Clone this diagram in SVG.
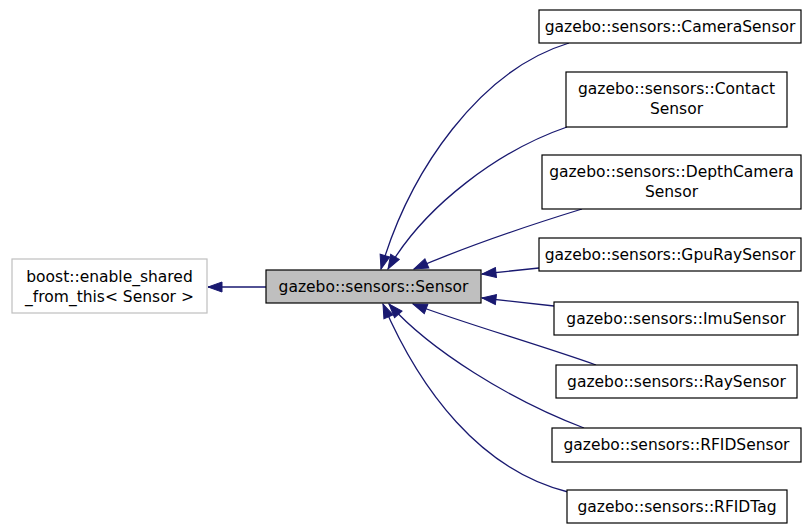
<svg xmlns="http://www.w3.org/2000/svg" width="803" height="525" viewBox="0 0 803 525">
<defs>
<style>
.n rect{fill:#fff;stroke:#000;stroke-width:1.2}
text{font-family:"DejaVu Sans",sans-serif;font-size:15.5px;fill:#000;text-anchor:middle}
.e path{fill:none;stroke:#191970;stroke-width:1.3}
</style>
<marker id="ah" markerWidth="16" markerHeight="12" refX="15" refY="6" orient="auto" markerUnits="userSpaceOnUse">
<path d="M1,1 L15,6 L1,11 z" fill="#191970" stroke="#191970"/>
</marker>
</defs>
<rect width="803" height="525" fill="#fff"/>
<g class="e" id="edges">
<path d="M266,287 L208,287" marker-end="url(#ah)"/>
<path d="M569,43 C480,70 410,170 381,269" marker-end="url(#ah)"/>
<path d="M567,127 C500,150 425,205 388,269" marker-end="url(#ah)"/>
<path d="M582,209 C530,225 470,245 414,269" marker-end="url(#ah)"/>
<path d="M539,268 L482,274" marker-end="url(#ah)"/>
<path d="M554,306 L482,298" marker-end="url(#ah)"/>
<path d="M596,365 C540,345 460,322 413,304" marker-end="url(#ah)"/>
<path d="M584,428 C510,400 430,350 389,304" marker-end="url(#ah)"/>
<path d="M568,492 C480,470 420,390 383,304" marker-end="url(#ah)"/>
</g>
<g class="n" id="boost">
<rect x="12" y="259" width="195" height="54" style="stroke:#bfbfbf"/>
<text x="109.5" y="282">boost::enable_shared</text>
<text x="109.5" y="302">_from_this&lt; Sensor &gt;</text>
</g>
<g class="n" id="sensor">
<rect x="266" y="270" width="215" height="33" style="fill:#bfbfbf"/>
<text x="373.5" y="292">gazebo::sensors::Sensor</text>
</g>
<g class="n" id="camera">
<rect x="539" y="10" width="262" height="33"/>
<text x="670" y="32">gazebo::sensors::CameraSensor</text>
</g>
<g class="n" id="contact">
<rect x="566" y="72" width="221" height="55"/>
<text x="676.5" y="94">gazebo::sensors::Contact</text>
<text x="676.5" y="114">Sensor</text>
</g>
<g class="n" id="depth">
<rect x="542" y="155" width="259" height="54"/>
<text x="671.5" y="177">gazebo::sensors::DepthCamera</text>
<text x="671.5" y="197">Sensor</text>
</g>
<g class="n" id="gpuray">
<rect x="539" y="238" width="262" height="33"/>
<text x="670" y="260">gazebo::sensors::GpuRaySensor</text>
</g>
<g class="n" id="imu">
<rect x="554" y="302" width="244" height="33"/>
<text x="676" y="324">gazebo::sensors::ImuSensor</text>
</g>
<g class="n" id="ray">
<rect x="556" y="365" width="241" height="33"/>
<text x="676.5" y="387">gazebo::sensors::RaySensor</text>
</g>
<g class="n" id="rfidsensor">
<rect x="552" y="428" width="249" height="34"/>
<text x="676.5" y="450">gazebo::sensors::RFIDSensor</text>
</g>
<g class="n" id="rfidtag">
<rect x="567" y="490" width="220" height="33"/>
<text x="677" y="512">gazebo::sensors::RFIDTag</text>
</g>
</svg>
